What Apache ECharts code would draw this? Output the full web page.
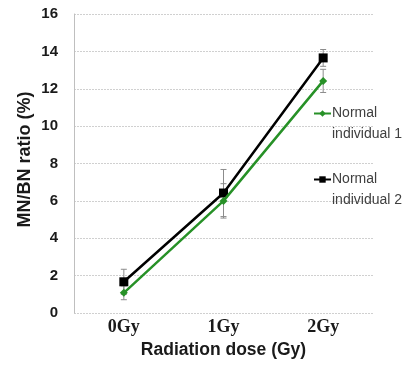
<!DOCTYPE html>
<html>
<head>
<meta charset="utf-8">
<script src="https://cdn.jsdelivr.net/npm/echarts@6/dist/echarts.min.js"></script>
<style>
  html, body { margin: 0; padding: 0; background: #fff; }
  #chart { width: 407px; height: 367px; }
</style>
</head>
<body>
<div id="chart"></div>
<script>
// data
const doses = ['0Gy', '1Gy', '2Gy'];
const names = ['Normal\nindividual 1', 'Normal\nindividual 2'];
const ind1 = [1.08, 6.0, 12.42];
const ind1Err = [0.37, 0.92, 0.62];
const ind2 = [1.67, 6.42, 13.65];
const ind2Err = [0.67, 1.26, 0.45];
const yTicks = { min: 0, max: 16, step: 2 };

const chart = echarts.init(document.getElementById('chart'));

// error bars drawn as a custom series: [categoryIndex, low, high]
const errData = (vals, errs) => vals.map((v, i) => [i, v - errs[i], v + errs[i]]);

const errorBars = (data) => ({
    type: 'custom',
    silent: true,
    z: 1,
    renderItem: function (params, api) {
        const lo = api.coord([api.value(0), api.value(1)]);
        const hi = api.coord([api.value(0), api.value(2)]);
        const cap = 3;
        const style = { stroke: '#8c8c8c', lineWidth: 1 };
        return {
            type: 'group',
            children: [
                { type: 'line', shape: { x1: lo[0], y1: lo[1], x2: hi[0], y2: hi[1] }, style: style },
                { type: 'line', shape: { x1: lo[0] - cap, y1: lo[1], x2: lo[0] + cap, y2: lo[1] }, style: style },
                { type: 'line', shape: { x1: hi[0] - cap, y1: hi[1], x2: hi[0] + cap, y2: hi[1] }, style: style }
            ]
        };
    },
    encode: { x: 0, y: [1, 2] },
    data: data
});

const boldSans = { fontFamily: 'Liberation Sans, Arial, sans-serif', fontWeight: 'bold', color: '#1a1a1a' };

const option = {
    animation: false,
    backgroundColor: '#fff',
    grid: { left: 74, right: 34, top: 14, bottom: 54, containLabel: false, outerBoundsMode: 'none' },
    legend: {
        data: names,
        orient: 'vertical',
        left: 313,
        top: 82,
        padding: 0,
        itemWidth: 17,
        itemHeight: 8,
        itemGap: 3,
        selectedMode: false,
        // blank first line puts "Normal" level with the icon
        formatter: name => ' \n' + name,
        textStyle: {
            fontFamily: 'Liberation Sans, Arial, sans-serif',
            fontSize: 14,
            color: '#404040',
            lineHeight: 21,
            padding: [0, 0, 0, -4]
        }
    },
    xAxis: {
        type: 'category',
        data: doses,
        name: 'Radiation dose (Gy)',
        nameLocation: 'middle',
        nameGap: 25,
        nameTextStyle: Object.assign({ fontSize: 17.5 }, boldSans),
        axisLine: { show: false },
        axisTick: { show: false },
        axisLabel: {
            fontFamily: 'Liberation Serif, Times New Roman, serif',
            fontSize: 18,
            fontWeight: 'bold',
            color: '#1a1a1a',
            margin: 5
        }
    },
    yAxis: {
        type: 'value',
        min: yTicks.min,
        max: yTicks.max,
        interval: yTicks.step,
        name: 'MN/BN ratio (%)',
        nameLocation: 'middle',
        nameGap: 40,
        nameMoveOverlap: false,
        nameTextStyle: Object.assign({ fontSize: 18, padding: [0, 0, 0, 8] }, boldSans),
        axisLine: { show: true, lineStyle: { color: '#bfbfbf', width: 1 } },
        axisTick: { show: false },
        axisLabel: Object.assign({ fontSize: 15, margin: 16 }, boldSans),
        splitLine: { lineStyle: { color: '#d0d0d0', type: [2, 1], width: 1 } }
    },
    series: [
        errorBars(errData(ind1, ind1Err)),
        errorBars(errData(ind2, ind2Err)),
        {
            name: names[0],
            type: 'line',
            data: ind1,
            z: 3,
            symbol: 'diamond',
            symbolSize: 8,
            color: '#279127',
            lineStyle: { width: 2.5, color: '#279127' },
            itemStyle: { color: '#279127' }
        },
        {
            name: names[1],
            type: 'line',
            data: ind2,
            z: 2,
            symbol: 'rect',
            symbolSize: 9,
            color: '#000',
            lineStyle: { width: 2.5, color: '#000' },
            itemStyle: { color: '#000' }
        }
    ]
};

chart.setOption(option);
</script>
</body>
</html>
